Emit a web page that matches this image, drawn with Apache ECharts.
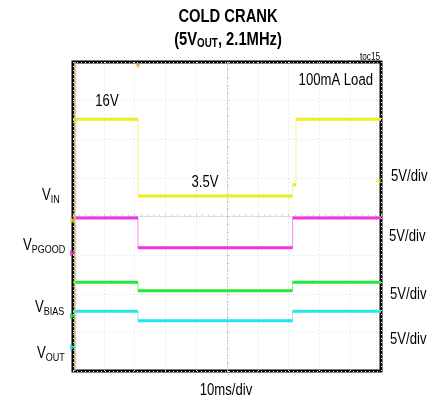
<!DOCTYPE html>
<html><head><meta charset="utf-8">
<script src="https://cdn.jsdelivr.net/npm/echarts@6/dist/echarts.min.js"></script>
<style>html,body{margin:0;padding:0;background:#fff}#c{width:432px;height:402px}</style>
</head><body><div id="c"></div>
<script>
const FONT = '"Liberation Sans",Arial,sans-serif';
const NARROW = 0.82;

// time in ms relative to screen centre (10 ms/div), level in screen divisions relative to centre
const timeRange = [-50, 50];
const levelRange = [-4, 4];
const vinTrace   = [[-50, 2.52], [-28.9, 2.52], [-28.9, 0.53], [21.3, 0.53], [21.3, 0.82], [22.4, 0.82], [22.4, 2.52], [50, 2.52]];
const pgoodTrace = [[-50, -0.04], [-28.9, -0.04], [-28.9, -0.81], [21.3, -0.81], [21.3, -0.04], [50, -0.04]];
const biasTrace  = [[-50, -1.70], [-28.9, -1.70], [-28.9, -1.92], [21.3, -1.92], [21.3, -1.70], [50, -1.70]];
const voutTrace  = [[-50, -2.45], [-28.9, -2.45], [-28.9, -2.70], [21.3, -2.70], [21.3, -2.45], [50, -2.45]];
const groundLevels = [0.0, -0.84, -2.47, -3.28];
const triggerTime = -28.9;
const triggerLevel = 0.92;
const leftRefTime = -49.5;

const channelNames = ['VIN', 'VPGOOD', 'VBIAS', 'VOUT'];
const channelColors = ['#ecec1e', '#f233e4', '#22e83a', '#22e6ee'];
const channelThinColors = ['#f4f28a', '#f58ef0', '#7cf08a', '#86eef2'];
const traces = [vinTrace, pgoodTrace, biasTrace, voutTrace];

function flatSegments(tr) {
  const out = [];
  for (let i = 0; i < tr.length - 1; i++) {
    const a = tr[i], b = tr[i + 1];
    if (a[1] === b[1] && a[0] !== b[0]) {
      out.push([a[0], a[1]], [b[0], b[1]], [b[0], '-']);
    }
  }
  return out;
}

const series = [];
traces.forEach((tr, i) => {
  series.push({
    name: channelNames[i] + ' edges', type: 'line', data: tr, symbol: 'none',
    lineStyle: { color: channelThinColors[i], width: 1 }, z: 3, animation: false, silent: true
  });
  series.push({
    name: channelNames[i], type: 'line', data: flatSegments(tr), symbol: 'none', connectNulls: false,
    lineStyle: { color: channelColors[i], width: 3 }, z: 4, animation: false, silent: true
  });
});
series.push({
  name: 'ground markers', type: 'scatter', animation: false, silent: true, clip: false,
  data: groundLevels.map((g, i) => ({ value: [timeRange[0], g], itemStyle: { color: channelColors[i] } })),
  symbol: 'triangle', symbolRotate: -90, symbolSize: [6, 6], symbolOffset: [0, 4], z: 5
});
series.push({
  name: 'trigger', type: 'scatter', animation: false, silent: true, clip: false,
  data: [{ value: [triggerTime, levelRange[1]], itemStyle: { color: '#f0a030' }, symbolRotate: 180, symbolOffset: [0, 4] },
         { value: [timeRange[1], triggerLevel], itemStyle: { color: channelColors[0] }, symbolRotate: 90, symbolOffset: [-3, 0] }],
  symbol: 'triangle', symbolSize: [5, 5], z: 5,
  markLine: { symbol: 'none', silent: true, animation: false, label: { show: false },
    lineStyle: { color: '#dcc08a', width: 1.5, type: 'solid' }, data: [{ xAxis: leftRefTime }] }
});

const chart = echarts.init(document.getElementById('c'), null, { renderer: 'canvas' });
const axisCommon = {
  type: 'value', axisLabel: { show: false },
  axisLine: { show: true, onZero: true, lineStyle: { color: '#d4ccc0', width: 1, type: [1, 2] } },
  axisTick: { show: true, inside: true, length: 3, lineStyle: { color: '#d4ccc0' } },
  minorTick: { show: true, splitNumber: 5, length: 2, lineStyle: { color: '#d4ccc0' } },
  splitLine: { show: true, lineStyle: { color: '#dadada', type: [1, 3], width: 1 } }
};
const sub = { fontFamily: FONT, fontSize: 11, verticalAlign: 'bottom', lineHeight: 12, fill: '#000' };
const main = { fontFamily: FONT, fontSize: 16, lineHeight: 18, fill: '#000' };
function label(x, y, v, s) {
  return { type: 'text', x: x, y: y, scaleX: NARROW, style: { text: '{m|' + v + '}{s|' + s + '}', rich: { m: main, s: sub }, textVerticalAlign: 'middle' }, z: 10 };
}
function txt(x, y, t, size, align, weight) {
  return { type: 'text', x: x, y: y, scaleX: NARROW, style: { text: t, font: (weight || 'normal') + ' ' + size + 'px ' + FONT, fill: '#000', textAlign: align, textVerticalAlign: 'middle' }, z: 10 };
}

chart.setOption({
  backgroundColor: '#fff',
  animation: false,
  grid: { left: 73, top: 62, width: 308, height: 309, show: true, borderColor: '#000', borderWidth: 3, backgroundColor: '#fff', z: 0 },
  xAxis: Object.assign({}, axisCommon, { min: timeRange[0], max: timeRange[1], interval: 10 }),
  yAxis: Object.assign({}, axisCommon, { min: levelRange[0], max: levelRange[1], interval: 1 }),
  series: series,
  graphic: [
    txt(228, 17, 'COLD CRANK', 18, 'center', 'bold'),
    { type: 'text', x: 228, y: 40, scaleX: NARROW, style: { text: '{m|(5V}{s|OUT}{m|, 2.1MHz)}', textAlign: 'center', textVerticalAlign: 'middle',
      rich: { m: { fontFamily: FONT, fontSize: 18, fontWeight: 'bold', lineHeight: 20, fill: '#000' },
              s: { fontFamily: FONT, fontSize: 12, fontWeight: 'bold', verticalAlign: 'bottom', lineHeight: 12, fill: '#000' } } }, z: 10 },
    txt(380, 57, 'toc15', 10, 'right'),
    txt(373, 81, '100mA Load', 16, 'right'),
    txt(107, 102, '16V', 16, 'center'),
    txt(205, 183, '3.5V', 16, 'center'),
    label(42, 196, 'V', 'IN'),
    label(23, 246, 'V', 'PGOOD'),
    label(35, 308, 'V', 'BIAS'),
    label(37, 354, 'V', 'OUT'),
    txt(391, 177, '5V/div', 16, 'left'),
    txt(389, 237, '5V/div', 16, 'left'),
    txt(390, 295, '5V/div', 16, 'left'),
    txt(390, 340, '5V/div', 16, 'left'),
    txt(226, 391, '10ms/div', 16, 'center')
  ]
});
</script>
</body></html>
